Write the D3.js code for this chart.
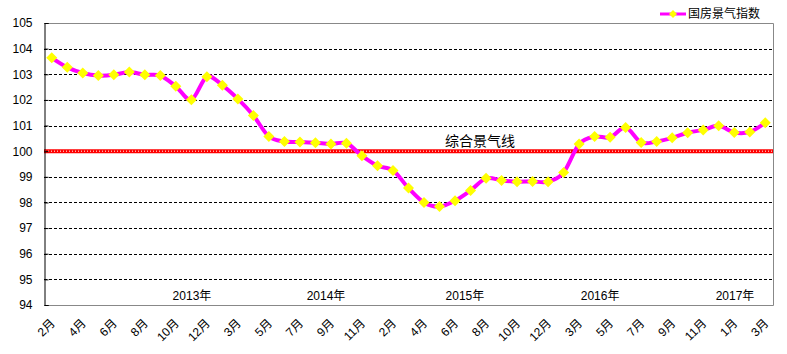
<!DOCTYPE html>
<html>
<head>
<meta charset="utf-8">
<script src="https://cdn.jsdelivr.net/npm/d3@7"></script>
<style>
  body { margin: 0; background: #fff; }
  text { font-family: "Liberation Sans", Arial, "Noto Sans CJK SC", sans-serif; fill: #000; }
</style>
</head>
<body>
<svg id="chart"></svg>
<script>
// month labels, one per point (Jan+Feb merged except last year)
var months = [2,3,4,5,6,7,8,9,10,11,12,
              2,3,4,5,6,7,8,9,10,11,12,
              2,3,4,5,6,7,8,9,10,11,12,
              2,3,4,5,6,7,8,9,10,11,12,
              1,2,3];
// 国房景气指数
var values = [103.64,103.27,103.05,102.95,102.98,103.09,102.98,102.95,102.53,102.01,102.90,
              102.57,102.04,101.39,100.57,100.38,100.36,100.33,100.28,100.31,99.82,99.43,
              99.25,98.56,98.00,97.84,98.07,98.47,98.94,98.86,98.81,98.82,98.81,
              99.17,100.28,100.57,100.54,100.92,100.34,100.38,100.52,100.72,100.83,
              100.99,100.73,100.75,101.11];
var yTicks = [94,95,96,97,98,99,100,101,102,103,104,105];
var years = ['2013年','2014年','2015年','2016年','2017年'];
var yearPos = [9.04, 17.68, 26.64, 35.35, 44.05];   // in point-index units
var baseline = 100;
var seriesName = '国房景气指数';
var baseName = '综合景气线';

(function () {
  var width = 787, height = 354;
  var mLeft = 44, mRight = 773, mTop = 23, mBottom = 305;

  var svg = d3.select('#chart').attr('width', width).attr('height', height);

  var idx = d3.range(values.length);
  var x = d3.scalePoint().domain(idx).range([mLeft, mRight]).padding(0.5);
  var xi = d3.scaleLinear().domain([0, values.length - 1]).range([x(0), x(values.length - 1)]);
  var y = d3.scaleLinear().domain([94, 105]).range([mBottom, mTop]);

  // dashed grid
  svg.append('g').selectAll('line')
    .data(yTicks.filter(function (d) { return d > 94 && d < 105 && d !== baseline; }))
    .enter().append('line')
    .attr('x1', mLeft).attr('x2', mRight)
    .attr('y1', function (d) { return Math.round(y(d)) + 0.5; })
    .attr('y2', function (d) { return Math.round(y(d)) + 0.5; })
    .attr('stroke', '#000').attr('stroke-width', 1).attr('stroke-dasharray', '3,2');

  // plot frame (top / right / bottom grey)
  svg.append('path')
    .attr('d', 'M' + mLeft + ',' + (mTop + 0.5) + 'H' + (mRight + 0.5) + 'V' + (mBottom + 0.5) + 'H' + mLeft)
    .attr('fill', 'none').attr('stroke', '#888').attr('stroke-width', 1);

  // red 100 line
  svg.append('line')
    .attr('x1', mLeft).attr('x2', mRight)
    .attr('y1', y(baseline)).attr('y2', y(baseline))
    .attr('stroke', '#ff0000').attr('stroke-width', 4);
  svg.append('line')
    .attr('x1', mLeft + 1).attr('x2', mRight)
    .attr('y1', y(baseline)).attr('y2', y(baseline))
    .attr('stroke', '#fff').attr('stroke-width', 1).attr('stroke-dasharray', '1,2');

  svg.append('text')
    .attr('x', 480).attr('y', y(baseline) - 5)
    .attr('text-anchor', 'middle')
    .style('font-family', '"Noto Sans CJK SC", sans-serif')
    .style('font-size', '14px')
    .text(baseName);

  // y axis
  var yAxis = d3.axisLeft(y).tickValues(yTicks).tickSize(-4).tickPadding(12);
  var gy = svg.append('g').attr('transform', 'translate(' + (mLeft + 0.5) + ',0)').call(yAxis);
  gy.select('.domain').attr('stroke', '#000');
  gy.selectAll('.tick line').attr('stroke', '#000');
  gy.selectAll('.tick text').style('font-size', '12px');

  // x tick labels (every other point)
  svg.append('g').selectAll('text')
    .data(idx.filter(function (i) { return i % 2 === 0; }))
    .enter().append('text')
    .attr('transform', function (i) { return 'translate(' + (x(i) + 1) + ',' + 321 + ') rotate(-45)'; })
    .attr('text-anchor', 'end')
    .attr('dy', '0.35em')
    .style('font-size', '12px')
    .text(function (i) { return months[i] + '月'; });

  // year labels
  svg.append('g').selectAll('text')
    .data(years)
    .enter().append('text')
    .attr('x', function (d, i) { return xi(yearPos[i]); })
    .attr('y', 300)
    .attr('text-anchor', 'middle')
    .style('font-size', '12px')
    .text(function (d) { return d; });

  // series line
  var line = d3.line()
    .x(function (d, i) { return x(i); })
    .y(function (d) { return y(d); })
    .curve(d3.curveCardinal.tension(0));

  svg.append('path')
    .datum(values)
    .attr('d', line)
    .attr('fill', 'none')
    .attr('stroke', '#ff00ff')
    .attr('stroke-width', 4)
    .attr('stroke-linejoin', 'round');

  function diamond(r) {
    return 'M0,' + (-r) + 'L' + r + ',0L0,' + r + 'L' + (-r) + ',0Z';
  }

  svg.append('g').selectAll('path')
    .data(values)
    .enter().append('path')
    .attr('transform', function (d, i) { return 'translate(' + x(i) + ',' + y(d) + ')'; })
    .attr('d', diamond(5.5))
    .attr('fill', '#ffff00');

  // legend
  var lg = svg.append('g');
  lg.append('line')
    .attr('x1', 660).attr('x2', 686).attr('y1', 14).attr('y2', 14)
    .attr('stroke', '#ff00ff').attr('stroke-width', 3);
  lg.append('path')
    .attr('transform', 'translate(673,14)')
    .attr('d', diamond(4))
    .attr('fill', '#ffff00');
  lg.append('text')
    .attr('x', 688).attr('y', 14).attr('dy', '0.35em')
    .style('font-family', '"Noto Sans CJK SC", sans-serif')
    .style('font-size', '12px')
    .text(seriesName);
})();
</script>
</body>
</html>
